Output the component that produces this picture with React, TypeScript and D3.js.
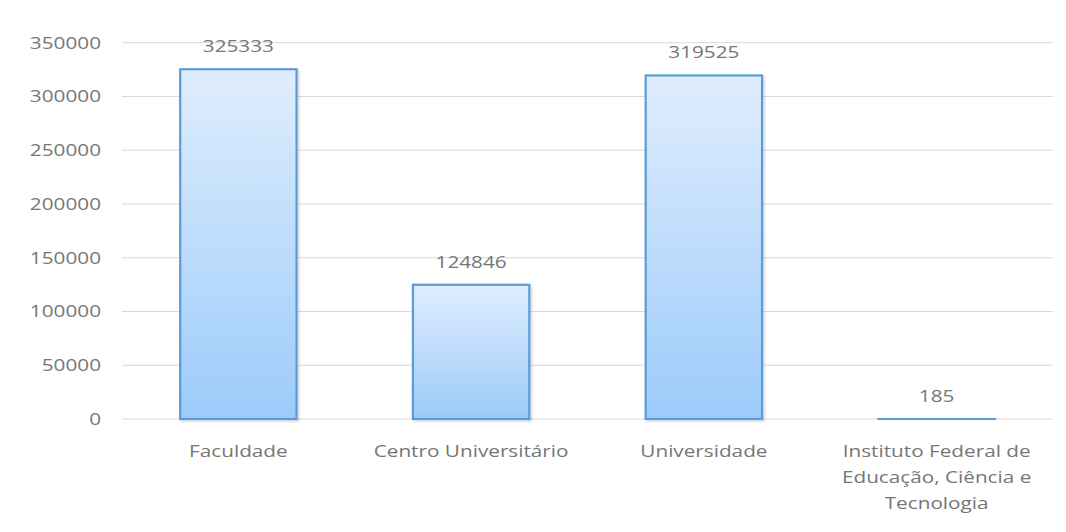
import React from "react";
import * as d3 from "d3";

const categories: string[][] = [
  ["Faculdade"],
  ["Centro Universitário"],
  ["Universidade"],
  ["Instituto Federal de", "Educação, Ciência e", "Tecnologia"],
];
const values: number[] = [325333, 124846, 319525, 185];
const yTicks: number[] = [0, 50000, 100000, 150000, 200000, 250000, 300000, 350000];

const W = 1066;
const H = 532;
const plot = { left: 122, right: 1053, top: 42.7, bottom: 419 };
const SX = 1.22;
const textColor = "#767676";
const font = "'Open Sans', sans-serif";

export default function App() {
  const x = d3
    .scaleBand<number>()
    .domain(d3.range(values.length))
    .range([plot.left, plot.right])
    .paddingInner(0.5)
    .paddingOuter(0.25);
  const y = d3.scaleLinear().domain([0, 350000]).range([plot.bottom, plot.top]);

  const label = (tx: number, ty: number, s: string, anchor: string, key?: React.Key) => (
    <text
      key={key}
      transform={`translate(${tx},${ty}) scale(${SX},1)`}
      textAnchor={anchor}
      fontFamily={font}
      fontSize={17}
      fill={textColor}
    >
      {s}
    </text>
  );

  return (
    <svg
      width={W}
      height={H}
      style={{ position: "absolute", left: 0, top: 0, background: "#fff" }}
    >
      <defs>
        <linearGradient id="barFill" x1="0" y1="0" x2="0" y2="1">
          <stop offset="0%" stopColor="#dfedfd" />
          <stop offset="100%" stopColor="#9ccbfa" />
        </linearGradient>
        <filter id="barShadow" x="-10%" y="-10%" width="130%" height="130%">
          <feDropShadow dx="1.5" dy="1.5" stdDeviation="1.2" floodColor="#000" floodOpacity="0.18" />
        </filter>
      </defs>

      {yTicks.map((t) => (
        <g key={t}>
          <line
            x1={plot.left}
            x2={plot.right}
            y1={y(t)}
            y2={y(t)}
            stroke="#d9d9d9"
            strokeWidth={1}
          />
          {label(101, y(t) + 6, String(t), "end")}
        </g>
      ))}

      {values.map((v, i) => {
        const bx = x(i)!;
        const bw = x.bandwidth();
        const by = y(v);
        const bh = Math.max(plot.bottom - by, 0.5);
        const cx = bx + bw / 2;
        return (
          <g key={i}>
            <rect
              x={bx}
              y={by}
              width={bw}
              height={bh}
              fill="url(#barFill)"
              stroke="#5b9bd5"
              strokeWidth={2.2}
              filter="url(#barShadow)"
            />
            {label(cx, by - 17, String(v), "middle")}
            {categories[i].map((line, j) => label(cx, 457 + j * 26, line, "middle", j))}
          </g>
        );
      })}
    </svg>
  );
}
